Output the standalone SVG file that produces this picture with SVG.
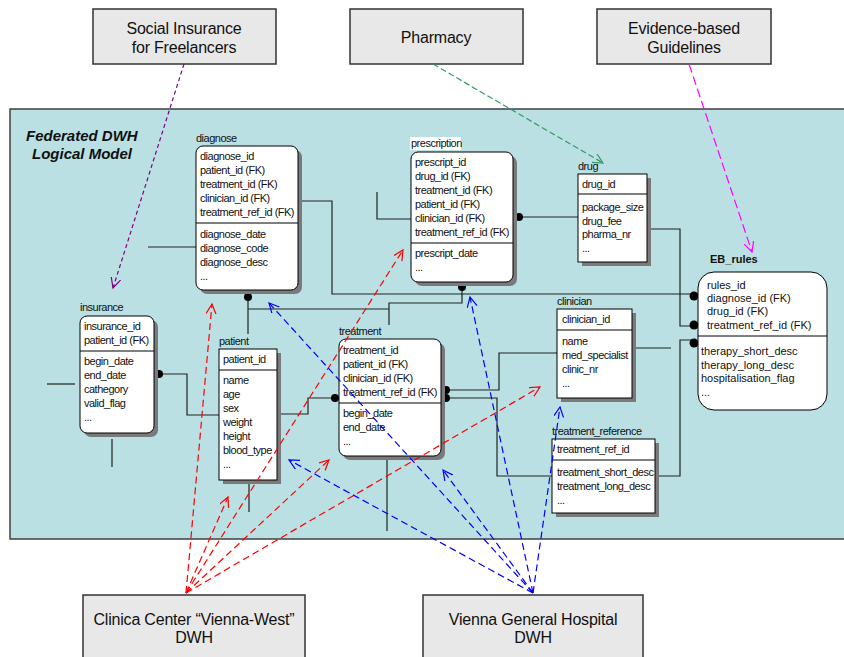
<svg xmlns="http://www.w3.org/2000/svg" width="844" height="657" viewBox="0 0 844 657">
<style>
.src{fill:#e8e8e8;stroke:#333;stroke-width:1.5}
.st{font-family:"Liberation Sans",Arial,sans-serif;font-size:16px;fill:#111;text-anchor:middle;letter-spacing:-0.2px}
.ent{fill:#fff;stroke:#000;stroke-width:1}
.sh{fill:#7a7a7a}
.dv{stroke:#000;stroke-width:1}
.t{font-family:"Liberation Sans",Arial,sans-serif;font-size:11px;fill:#111;letter-spacing:-0.5px}
.eb{font-family:"Liberation Sans",Arial,sans-serif;font-size:11px;fill:#111}
.cn{fill:none;stroke:#222;stroke-width:1.2}
.dot{fill:#000}
.da{fill:none;stroke-width:1.2}
.red{stroke:#ff0000;stroke-dasharray:7,4}
.blue{stroke:#0000ff;stroke-dasharray:7,4}
</style>
<defs>
<marker id="mR" markerWidth="12" markerHeight="12" refX="10" refY="5" orient="auto" markerUnits="userSpaceOnUse"><path d="M0,0 L10,5 L0,10" fill="none" stroke="#ff0000" stroke-width="1.2"/></marker>
<marker id="mB" markerWidth="12" markerHeight="12" refX="10" refY="5" orient="auto" markerUnits="userSpaceOnUse"><path d="M0,0 L10,5 L0,10" fill="none" stroke="#0000ff" stroke-width="1.2"/></marker>
<marker id="mP" markerWidth="12" markerHeight="12" refX="10" refY="5" orient="auto" markerUnits="userSpaceOnUse"><path d="M0,0 L10,5 L0,10" fill="none" stroke="#800080" stroke-width="1.2"/></marker>
<marker id="mG" markerWidth="12" markerHeight="12" refX="10" refY="5" orient="auto" markerUnits="userSpaceOnUse"><path d="M0,0 L10,5 L0,10" fill="none" stroke="#339966" stroke-width="1.2"/></marker>
<marker id="mM" markerWidth="12" markerHeight="12" refX="10" refY="5" orient="auto" markerUnits="userSpaceOnUse"><path d="M0,0 L10,5 L0,10" fill="none" stroke="#ff00ff" stroke-width="1.2"/></marker>
</defs>
<rect width="844" height="657" fill="#fff"/>

<g id="panel">
<rect x="10" y="109" width="845" height="430" fill="#bae0e3" stroke="#404040" stroke-width="1.5"/>
<text x="26" y="141" font-family="Liberation Sans,Arial,sans-serif" font-size="15" font-weight="bold" font-style="italic" fill="#111">Federated DWH</text>
<text x="32" y="159" font-family="Liberation Sans,Arial,sans-serif" font-size="15" font-weight="bold" font-style="italic" fill="#111">Logical Model</text>
</g>

<g id="src-social"><rect class="src" x="93" y="9" width="183" height="55"/><text class="st" x="184" y="34">Social Insurance</text><text class="st" x="184" y="53">for Freelancers</text></g>
<g id="src-pharmacy"><rect class="src" x="350" y="9" width="173" height="55"/><text class="st" x="436" y="43">Pharmacy</text></g>
<g id="src-ebg"><rect class="src" x="597" y="9" width="174" height="55"/><text class="st" x="684" y="34">Evidence-based</text><text class="st" x="684" y="53">Guidelines</text></g>
<g id="src-clinica"><rect class="src" x="83" y="595" width="222" height="80"/><text class="st" x="194" y="625">Clinica Center “Vienna-West”</text><text class="st" x="194" y="643">DWH</text></g>
<g id="src-vgh"><rect class="src" x="423" y="595" width="220" height="80"/><text class="st" x="533" y="625">Vienna General Hospital</text><text class="st" x="533" y="643">DWH</text></g>

<g id="connectors">
<polyline class="cn" points="298,201 332,201 332,294 694,294"/>
<polyline class="cn" points="647,229 680,229 680,326 694,326"/>
<polyline class="cn" points="655,476 680,476 680,340 694,340"/>
<polyline class="cn" points="520,217 578,217"/>
<polyline class="cn" points="377,192 377,219 411,219"/>
<polyline class="cn" points="462,288 462,303 389,303 389,325"/>
<polyline class="cn" points="248,298 248,334"/>
<polyline class="cn" points="248,309 389,309"/>
<polyline class="cn" points="334,398 308,398 308,414 277,414"/>
<polyline class="cn" points="159,374 187,374 187,415 219,415"/>
<polyline class="cn" points="47,384 75,384"/>
<polyline class="cn" points="112,439 112,467"/>
<polyline class="cn" points="148,247 196,247"/>
<polyline class="cn" points="249,484 249,512"/>
<polyline class="cn" points="387,457 387,531"/>
<polyline class="cn" points="446,390 499,390 499,353 557,353"/>
<polyline class="cn" points="446,398 497,398 497,476 552,476"/>
<polyline class="cn" points="634,348 671,348"/>
<circle class="dot" cx="694" cy="296" r="4.5"/>
<circle class="dot" cx="694" cy="325" r="4.5"/>
<circle class="dot" cx="694" cy="343" r="4.5"/>
<circle class="dot" cx="519" cy="217" r="4"/>
<circle class="dot" cx="462" cy="287" r="4"/>
<circle class="dot" cx="248" cy="297" r="4"/>
<circle class="dot" cx="335" cy="398" r="4"/>
<circle class="dot" cx="159" cy="374" r="4"/>
<circle class="dot" cx="446" cy="390" r="4"/>
<circle class="dot" cx="446" cy="398" r="4"/>
</g>

<g id="diagnose">
<rect class="sh" x="200" y="150" width="102" height="144" rx="7"/>
<rect class="ent" x="196" y="146" width="102" height="144" rx="7"/>
<line class="dv" x1="196" y1="223" x2="298" y2="223"/>
<text class="t" x="196" y="142">diagnose</text>
<text class="t" x="200" y="160">diagnose_id</text>
<text class="t" x="200" y="174">patient_id (FK)</text>
<text class="t" x="200" y="188">treatment_id (FK)</text>
<text class="t" x="200" y="202">clinician_id (FK)</text>
<text class="t" x="200" y="216">treatment_ref_id (FK)</text>
<text class="t" x="200" y="238">diagnose_date</text>
<text class="t" x="200" y="252">diagnose_code</text>
<text class="t" x="200" y="266">diagnose_desc</text>
<text class="t" x="200" y="280">...</text>
</g>

<g id="prescription">
<rect class="sh" x="415" y="156" width="102" height="130" rx="7"/>
<rect class="ent" x="411" y="152" width="102" height="130" rx="7"/>
<line class="dv" x1="411" y1="243" x2="513" y2="243"/>
<rect x="410" y="137" width="51" height="13" fill="#fff"/>
<text class="t" x="411" y="147">prescription</text>
<text class="t" x="415" y="166">prescript_id</text>
<text class="t" x="415" y="180">drug_id (FK)</text>
<text class="t" x="415" y="194">treatment_id (FK)</text>
<text class="t" x="415" y="208">patient_id (FK)</text>
<text class="t" x="415" y="222">clinician_id (FK)</text>
<text class="t" x="415" y="236">treatment_ref_id (FK)</text>
<text class="t" x="415" y="257">prescript_date</text>
<text class="t" x="415" y="271">...</text>
</g>

<g id="drug">
<rect class="sh" x="582" y="178" width="69" height="88"/>
<rect class="ent" x="578" y="174" width="69" height="88"/>
<line class="dv" x1="578" y1="194" x2="647" y2="194"/>
<text class="t" x="578" y="170">drug</text>
<text class="t" x="582" y="188">drug_id</text>
<text class="t" x="582" y="211">package_size</text>
<text class="t" x="582" y="225">drug_fee</text>
<text class="t" x="582" y="238">pharma_nr</text>
<text class="t" x="582" y="252">...</text>
</g>

<g id="eb_rules">
<rect class="ent" x="698" y="272" width="129" height="138" rx="16" stroke-width="1.3"/>
<line class="dv" x1="698" y1="336" x2="827" y2="336" stroke-width="1.3"/>
<text class="eb" x="710" y="263" font-weight="bold">EB_rules</text>
<text class="eb" x="707" y="289">rules_id</text>
<text class="eb" x="707" y="302">diagnose_id (FK)</text>
<text class="eb" x="707" y="315">drug_id (FK)</text>
<text class="eb" x="707" y="329">treatment_ref_id (FK)</text>
<text class="eb" x="701" y="355">therapy_short_desc</text>
<text class="eb" x="701" y="369">therapy_long_desc</text>
<text class="eb" x="701" y="382">hospitalisation_flag</text>
<text class="eb" x="701" y="396">...</text>
</g>

<g id="insurance">
<rect class="sh" x="84" y="320" width="74" height="117" rx="7"/>
<rect class="ent" x="80" y="316" width="74" height="117" rx="7"/>
<line class="dv" x1="80" y1="351" x2="154" y2="351"/>
<text class="t" x="80" y="311">insurance</text>
<text class="t" x="84" y="330">insurance_id</text>
<text class="t" x="84" y="344">patient_id (FK)</text>
<text class="t" x="84" y="365">begin_date</text>
<text class="t" x="84" y="379">end_date</text>
<text class="t" x="84" y="393">cathegory</text>
<text class="t" x="84" y="407">valid_flag</text>
<text class="t" x="84" y="421">...</text>
</g>

<g id="patient">
<rect class="sh" x="223" y="353" width="58" height="131"/>
<rect class="ent" x="219" y="349" width="58" height="131"/>
<line class="dv" x1="219" y1="370" x2="277" y2="370"/>
<text class="t" x="219" y="345">patient</text>
<text class="t" x="223" y="363">patient_id</text>
<text class="t" x="223" y="384">name</text>
<text class="t" x="223" y="398">age</text>
<text class="t" x="223" y="412">sex</text>
<text class="t" x="223" y="426">weight</text>
<text class="t" x="223" y="440">height</text>
<text class="t" x="223" y="454">blood_type</text>
<text class="t" x="223" y="468">...</text>
</g>

<g id="treatment">
<rect class="sh" x="343" y="343" width="102" height="117" rx="7"/>
<rect class="ent" x="339" y="339" width="102" height="117" rx="7"/>
<line class="dv" x1="339" y1="403" x2="441" y2="403"/>
<text class="t" x="339" y="335">treatment</text>
<text class="t" x="343" y="354">treatment_id</text>
<text class="t" x="343" y="368">patient_id (FK)</text>
<text class="t" x="343" y="382">clinician_id (FK)</text>
<text class="t" x="343" y="396">treatment_ref_id (FK)</text>
<text class="t" x="343" y="417">begin_date</text>
<text class="t" x="343" y="431">end_date</text>
<text class="t" x="343" y="445">...</text>
</g>

<g id="clinician">
<rect class="sh" x="561" y="313" width="75" height="89"/>
<rect class="ent" x="557" y="309" width="75" height="89"/>
<line class="dv" x1="557" y1="330" x2="632" y2="330"/>
<text class="t" x="557" y="305">clinician</text>
<text class="t" x="562" y="323">clinician_id</text>
<text class="t" x="562" y="345">name</text>
<text class="t" x="562" y="359">med_specialist</text>
<text class="t" x="562" y="373">clinic_nr</text>
<text class="t" x="562" y="387">...</text>
</g>

<g id="treatment_reference">
<rect class="sh" x="556" y="443" width="103" height="74"/>
<rect class="ent" x="552" y="439" width="103" height="74"/>
<line class="dv" x1="552" y1="460" x2="655" y2="460"/>
<text class="t" x="552" y="435">treatment_reference</text>
<text class="t" x="557" y="453">treatment_ref_id</text>
<text class="t" x="557" y="476">treatment_short_desc</text>
<text class="t" x="557" y="490">treatment_long_desc</text>
<text class="t" x="557" y="504">...</text>
</g>

<g id="mappings">
<line class="da" x1="184" y1="64" x2="113" y2="288" stroke="#800080" stroke-dasharray="4,3" marker-end="url(#mP)"/>
<line class="da" x1="433" y1="64" x2="603" y2="163" stroke="#339966" stroke-dasharray="6,3" marker-end="url(#mG)"/>
<line class="da" x1="689" y1="64" x2="752" y2="252" stroke="#ff00ff" stroke-dasharray="9,4" marker-end="url(#mM)"/>
<line class="da red" x1="186" y1="593" x2="212" y2="304" marker-end="url(#mR)"/>
<line class="da red" x1="186" y1="593" x2="403" y2="250" marker-end="url(#mR)"/>
<line class="da red" x1="186" y1="593" x2="228" y2="497" marker-end="url(#mR)"/>
<line class="da red" x1="186" y1="593" x2="329" y2="460" marker-end="url(#mR)"/>
<line class="da red" x1="186" y1="593" x2="540" y2="387" marker-end="url(#mR)"/>
<line class="da blue" x1="533" y1="593" x2="269" y2="303" marker-end="url(#mB)"/>
<line class="da blue" x1="533" y1="593" x2="470" y2="297" marker-end="url(#mB)"/>
<line class="da blue" x1="533" y1="593" x2="289" y2="460" marker-end="url(#mB)"/>
<line class="da blue" x1="533" y1="593" x2="443" y2="470" marker-end="url(#mB)"/>
<line class="da blue" x1="533" y1="593" x2="560" y2="407" marker-end="url(#mB)"/>
</g>
</svg>
